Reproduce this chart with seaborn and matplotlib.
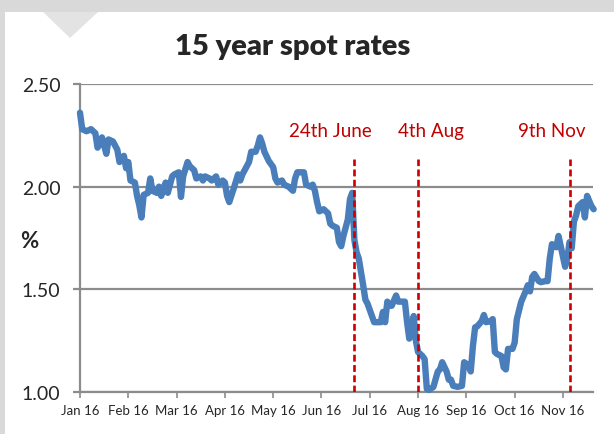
import matplotlib
matplotlib.use("Agg")
import matplotlib.pyplot as plt
import matplotlib.patches as mpatches
import seaborn as sns
import pandas as pd

# ---- data (business-day index since 4 Jan 2016, 15y spot rate %) ----
trading_day = [0, 1, 3, 5, 7, 8, 9, 10, 12, 13, 15, 17, 18, 20, 21, 22, 23, 25, 26, 27,
               28, 29, 31, 32, 33, 35, 36, 37, 39, 40, 42, 43, 45, 46, 47, 49, 50, 52, 53,
               55, 56, 57, 59, 60, 62, 63, 65, 66, 67, 68, 70, 72, 73, 74, 76, 77, 78, 80,
               81, 82, 83, 84, 86, 88, 89, 90, 92, 93, 95, 97, 98, 99, 102, 103, 105, 106,
               107, 108, 109, 111, 113, 114, 115, 117, 118, 119, 120, 122, 123, 124, 125,
               126, 127, 128, 129, 130, 131, 133, 134, 135, 137, 138, 139, 140, 141, 142,
               144, 145, 147, 148, 149, 150, 151, 152, 153, 154, 156, 157, 158, 159, 161,
               163, 164, 165, 167, 168, 169, 170, 172, 174, 175, 177, 178, 179, 180, 181,
               183, 184, 185, 187, 188, 189, 190, 192, 193, 194, 195, 197, 198, 199, 201,
               203, 204, 205, 206, 207, 209, 210, 212, 213, 214, 215, 217, 218, 220, 221,
               222, 223, 224, 225, 226, 227, 229, 230, 231, 232, 233, 234]
spot_rate = [2.36, 2.28, 2.27, 2.28, 2.26, 2.19, 2.21, 2.24, 2.16, 2.23, 2.22, 2.18, 2.12,
             2.15, 2.09, 2.12, 2.03, 2.02, 1.955, 1.91, 1.85, 1.96, 1.97, 2.04, 1.98, 1.97,
             2.00, 1.955, 2.02, 1.97, 2.05, 2.06, 2.07, 1.95, 2.05, 2.12, 2.10, 2.08, 2.04,
             2.05, 2.03, 2.05, 2.04, 2.03, 2.05, 2.01, 2.03, 2.02, 1.955, 1.925, 1.99, 2.06,
             2.03, 2.06, 2.10, 2.12, 2.17, 2.17, 2.20, 2.24, 2.21, 2.17, 2.125, 2.095, 2.04,
             2.02, 2.03, 2.01, 2.00, 1.98, 2.04, 2.07, 2.07, 2.01, 2.00, 2.01, 1.98, 1.925,
             1.88, 1.89, 1.87, 1.82, 1.81, 1.80, 1.73, 1.71, 1.76, 1.84, 1.94, 1.97, 1.74,
             1.68, 1.65, 1.585, 1.52, 1.45, 1.43, 1.37, 1.34, 1.34, 1.34, 1.39, 1.34, 1.44,
             1.42, 1.42, 1.47, 1.44, 1.44, 1.44, 1.34, 1.26, 1.28, 1.37, 1.25, 1.195, 1.175,
             1.16, 1.015, 1.01, 1.025, 1.10, 1.11, 1.145, 1.10, 1.06, 1.06, 1.03, 1.025,
             1.03, 1.145, 1.13, 1.10, 1.225, 1.315, 1.32, 1.345, 1.375, 1.34, 1.345, 1.355,
             1.195, 1.185, 1.175, 1.12, 1.11, 1.21, 1.21, 1.24, 1.355, 1.44, 1.49, 1.52,
             1.49, 1.56, 1.575, 1.54, 1.535, 1.54, 1.54, 1.65, 1.72, 1.705, 1.76, 1.66,
             1.61, 1.65, 1.73, 1.70, 1.83, 1.86, 1.905, 1.925, 1.85, 1.955, 1.93, 1.905,
             1.89]

month_labels = ["Jan 16", "Feb 16", "Mar 16", "Apr 16", "May 16", "Jun 16", "Jul 16",
                "Aug 16", "Sep 16", "Oct 16", "Nov 16"]
month_tick_day = [0, 22, 44, 66, 88, 110, 132, 154, 176, 198, 220]

event_labels = ["24th June", "4th Aug", "9th Nov"]
event_day = [125, 154, 223]
event_label_day = [114, 160, 215]

y_ticks = [1.00, 1.50, 2.00, 2.50]

# ---- style ----
sns.set_style("white")
plt.rcParams['font.family'] = ['Lato', 'DejaVu Sans']

W, H = 614, 435
fig = plt.figure(figsize=(W / 100, H / 100), dpi=100)
fig.patch.set_facecolor("white")

# grey frame and notch
fig.patches.append(mpatches.Rectangle((0, 1 - 13 / H), 1, 13 / H, transform=fig.transFigure,
                                      facecolor="#d9d9d9", edgecolor="none", zorder=0))
fig.patches.append(mpatches.Rectangle((0, 0), 5 / W, 1, transform=fig.transFigure,
                                      facecolor="#d9d9d9", edgecolor="none", zorder=0))
fig.patches.append(mpatches.Polygon([(43 / W, 1 - 13 / H), (98 / W, 1 - 13 / H), (70 / W, 1 - 39 / H)],
                                    closed=True, transform=fig.transFigure,
                                    facecolor="#e3e3e3", edgecolor="none", zorder=0))

ax = fig.add_axes([80 / W, 1 - 393 / H, (593 - 80) / W, (393 - 85) / H])

df = pd.DataFrame({"day": trading_day, "rate": spot_rate})
sns.lineplot(data=df, x="day", y="rate", ax=ax, color="#4a7ebb", linewidth=4.6,
             solid_joinstyle="round", solid_capstyle="round", zorder=3, clip_on=False)

for d in event_day:
    ax.vlines(d, 1.0, 2.135, colors="#cc0000", linestyles=(0, (2.6, 1.3)), linewidth=1.9, zorder=4)
for lab, d in zip(event_labels, event_label_day):
    ax.text(d, 2.275, lab, color="#c00000", fontsize=13.5, ha="center", va="center")

ax.set_xlim(0, 233.7)
ax.set_ylim(1.0, 2.5)
ax.set_yticks(y_ticks)
ax.set_yticklabels([f"{v:.2f}" for v in y_ticks], fontsize=14)
ax.set_xticks(month_tick_day)
ax.set_xticklabels(month_labels, fontsize=9.5)
ax.yaxis.grid(True, color="#8c8c8c", linewidth=1.6)
ax.xaxis.grid(False)
ax.set_axisbelow(True)
for s in ["top", "right"]:
    ax.spines[s].set_visible(False)
for s in ["left", "bottom"]:
    ax.spines[s].set_color("#8c8c8c")
    ax.spines[s].set_linewidth(1.6)
ax.tick_params(axis="y", length=5, width=1.6, color="#8c8c8c", pad=9, left=True)
ax.tick_params(axis="x", length=4, width=1.2, color="#8c8c8c", pad=5, bottom=True)
ax.set_xlabel("")
ax.set_ylabel("")

fig.text(29 / W, 1 - 242 / H, "%", fontsize=16, fontweight="bold", ha="center", va="center")
fig.text(293 / W, 1 - 47 / H, "15 year spot rates", fontsize=21, fontweight="heavy",
         ha="center", va="center")

fig.savefig("out.png", dpi=100, facecolor=fig.get_facecolor())
